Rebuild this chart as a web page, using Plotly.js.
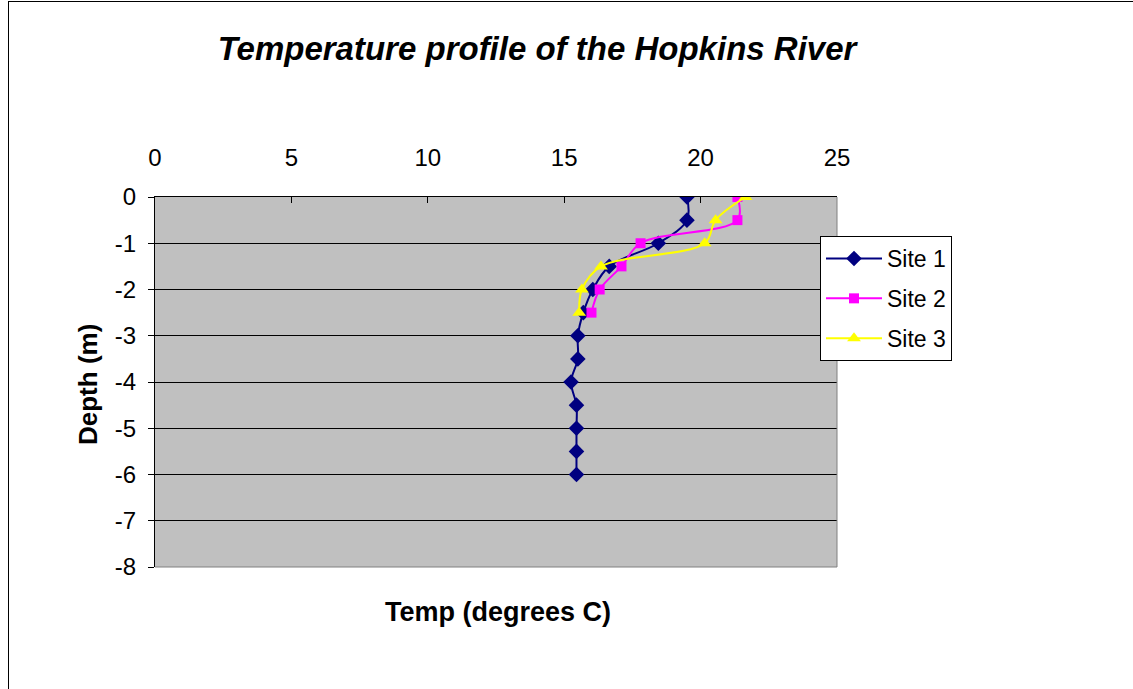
<!DOCTYPE html>
<html>
<head>
<meta charset="utf-8">
<script src="https://cdn.plot.ly/plotly-3.0.1.min.js"></script>
<style>
html,body{margin:0;padding:0;background:#fff;overflow:hidden;}
#chart{width:1133px;height:689px;position:absolute;left:0;top:0;}
#frame{position:absolute;left:8px;top:1px;width:2000px;height:2000px;border-left:1px solid #000;border-top:1px solid #000;pointer-events:none;}
</style>
</head>
<body>
<div id="chart"></div>
<div id="frame"></div>
<script>
// Data
const site1Temp  = [19.5, 19.5, 18.45, 16.65, 16.05, 15.7, 15.5, 15.5, 15.25, 15.45, 15.45, 15.45, 15.45];
const site1Depth = [0, -0.5, -1, -1.5, -2, -2.5, -3, -3.5, -4, -4.5, -5, -5.5, -6];
const site2Temp  = [21.35, 21.35, 17.8, 17.1, 16.3, 16.0];
const site2Depth = [0, -0.5, -1, -1.5, -2, -2.5];
const site3Temp  = [21.65, 20.55, 20.15, 16.35, 15.65, 15.55];
const site3Depth = [0, -0.5, -1, -1.5, -2, -2.5];
const seriesNames = ["Site 1", "Site 2", "Site 3"];
const xTicks = [0, 5, 10, 15, 20, 25];
const yTicks = [-8, -7, -6, -5, -4, -3, -2, -1, 0];

const font = "Liberation Sans, Arial, sans-serif";

const traces = [
  {x: site1Temp, y: site1Depth, name: seriesNames[0], legendgroup: "g1", type: "scatter", mode: "lines+markers",
   line: {color: "#000080", width: 2, shape: "spline"},
   marker: {symbol: "diamond", size: 12, color: "#000080"}},
  {x: site2Temp, y: site2Depth, name: seriesNames[1], legendgroup: "g2", type: "scatter", mode: "lines+markers",
   line: {color: "#FF00FF", width: 2, shape: "spline"},
   marker: {symbol: "square", size: 10, color: "#FF00FF"}},
  {x: site3Temp, y: site3Depth, name: seriesNames[2], legendgroup: "g3", type: "scatter", mode: "lines+markers",
   line: {color: "#FFFF00", width: 2, shape: "spline"},
   marker: {symbol: "triangle-up", size: 12, color: "#FFFF00"}}
];

const layout = {
  width: 1133, height: 689,
  paper_bgcolor: "rgba(0,0,0,0)",
  plot_bgcolor: "#C0C0C0",
  margin: {l: 155, r: 296, t: 197, b: 122, pad: 0},
  showlegend: true,
  title: {text: "<b><i>Temperature profile of the Hopkins River</i></b>",
          font: {family: font, size: 33, color: "#000"},
          x: 537/1133, xanchor: "center", y: 1 - 48/689, yanchor: "middle"},
  xaxis: {range: [0, 25], side: "top", tickvals: xTicks, ticktext: xTicks.map(String),
          ticks: "inside", ticklen: 6, tickcolor: "#000", showgrid: false, zeroline: false,
          showline: true, linecolor: "#000", linewidth: 1, mirror: false, ticklabelstandoff: 20,
          tickfont: {family: font, size: 24, color: "#000"}, fixedrange: true},
  yaxis: {range: [-8, 0], tickvals: yTicks, ticktext: yTicks.map(String),
          ticks: "outside", ticklen: 6, tickcolor: "#000", showgrid: true, gridcolor: "#000", gridwidth: 1,
          zeroline: false, showline: true, linecolor: "#000", linewidth: 1, ticklabelstandoff: 7,
          tickfont: {family: font, size: 24, color: "#000"}, fixedrange: true},
  legend: {x: (820-155)/682, xanchor: "left", y: (567-236)/370, yanchor: "top",
           bgcolor: "#fff", bordercolor: "#000", borderwidth: 1,
           font: {family: font, size: 23, color: "#000"}, itemwidth: 56, tracegroupgap: 7},
  shapes: [
    {type: "line", xref: "paper", yref: "paper", x0: 1, x1: 1, y0: 0, y1: 1, line: {color: "#808080", width: 1}, layer: "above"},
    {type: "line", xref: "paper", yref: "paper", x0: 0, x1: 1, y0: 0, y1: 0, line: {color: "#808080", width: 1}, layer: "above"}
  ],
  annotations: [
    {text: "<b>Temp (degrees C)</b>", xref: "paper", yref: "paper", x: (498-155)/682, y: (567-612)/370,
     xanchor: "center", yanchor: "middle", showarrow: false, font: {family: font, size: 27, color: "#000"}},
    {text: "<b>Depth (m)</b>", xref: "paper", yref: "paper", x: (88-155)/682, y: (567-385)/370,
     xanchor: "center", yanchor: "middle", textangle: -90, showarrow: false, font: {family: font, size: 26, color: "#000"}}
  ]
};

Plotly.newPlot("chart", traces, layout, {displayModeBar: false, staticPlot: true});
</script>
</body>
</html>
